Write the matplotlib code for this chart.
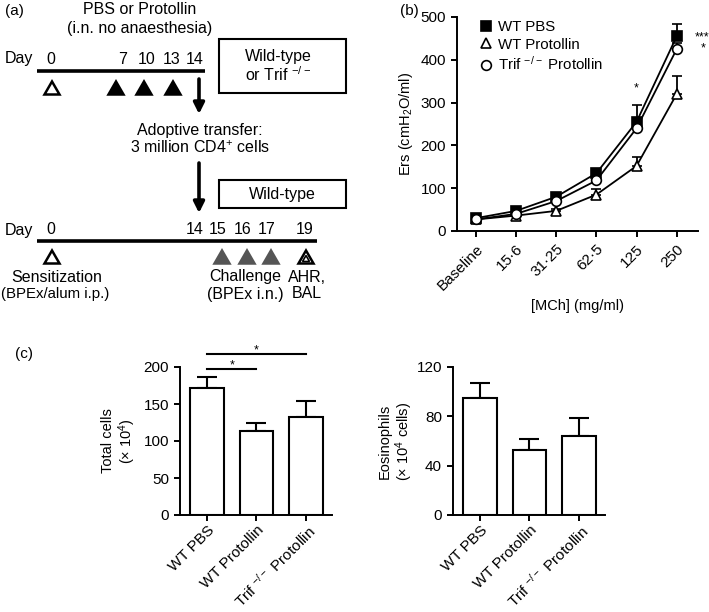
import matplotlib
matplotlib.use("Agg")
import matplotlib.pyplot as plt
from matplotlib.patches import Polygon, Rectangle
from matplotlib.lines import Line2D

plt.rcParams['font.family'] = ['Liberation Sans', 'DejaVu Sans']
plt.rcParams['mathtext.fontset'] = 'custom'
plt.rcParams['mathtext.rm'] = 'Liberation Sans'
plt.rcParams['mathtext.default'] = 'regular'

W, H = 709, 612

# ---------- data: panel (b) ----------
mch_labels = ["Baseline", "15\u00b76", "31\u00b725", "62\u00b75", "125", "250"]
wt_pbs = [30, 47, 80, 135, 255, 455]
wt_pbs_err = [3, 3, 5, 6, 40, 28]
wt_prot = [27, 36, 47, 85, 152, 320]
wt_prot_err = [2, 3, 5, 14, 22, 41]
trif_prot = [27, 40, 70, 118, 240, 425]
trif_prot_err = [2, 3, 6, 8, 15, 15]

# ---------- data: panel (c) ----------
groups = ["WT PBS", "WT Protollin", "Trif $^{-/-}$ Protollin"]
total_cells = [171, 114, 133]
total_cells_err = [15, 11, 21]
eosinophils = [95, 53, 64]
eosinophils_err = [12, 9, 15]

TICK_FS = 11
LAB_FS = 10.5


def px_axes(fig, left, top, right, bottom):
    return fig.add_axes([left / W, 1 - bottom / H, (right - left) / W, (bottom - top) / H])


def prism_style(ax):
    for s in ["top", "right"]:
        ax.spines[s].set_visible(False)
    for s in ["left", "bottom"]:
        ax.spines[s].set_linewidth(1.4)
    ax.tick_params(width=1.4, length=4.5, labelsize=TICK_FS, direction="out")


fig = plt.figure(figsize=(W / 100, H / 100), dpi=100)

# ---------- Panel (a): schematic in pixel coordinates ----------
ax0 = fig.add_axes([0, 0, 1, 1])
ax0.set_xlim(0, W)
ax0.set_ylim(H, 0)
ax0.axis("off")

fs = 11.5


def tri(x, y, face, edge="k", w=15, h=13, lw=1.8):
    ax0.add_patch(Polygon([(x - w / 2, y + h / 2), (x + w / 2, y + h / 2), (x, y - h / 2)],
                          closed=True, facecolor=face, edgecolor=edge, lw=lw, joinstyle="miter"))


ax0.text(5, 11, "(a)", fontsize=11, va="center")
ax0.text(140, 9, "PBS or Protollin", fontsize=fs, ha="center", va="center")
ax0.text(140, 29, "(i.n. no anaesthesia)", fontsize=fs, ha="center", va="center")

# first timeline
ax0.text(5, 59, "Day", fontsize=fs, va="center")
for d, x in zip(["0", "7", "10", "13", "14"], [51, 123, 147, 172, 195]):
    ax0.text(x, 59, d, fontsize=fs, ha="center", va="center")
ax0.plot([37, 205], [71, 71], color="k", lw=2.6, solid_capstyle="butt")
tri(52, 88, "white")
for x in [116, 144, 173]:
    tri(x, 88, "black")
ax0.add_patch(Rectangle((219, 39), 127, 54, fill=False, lw=1.5, edgecolor="k"))
ax0.text(245, 57, "Wild-type", fontsize=fs, va="center")
ax0.text(245, 75, "or Trif $^{-/-}$", fontsize=fs, va="center")

arrow = dict(arrowstyle="-|>", lw=2.6, color="k", mutation_scale=16, shrinkA=0, shrinkB=0)
ax0.annotate("", xy=(199, 114), xytext=(199, 79), arrowprops=arrow)
ax0.text(200, 130, "Adoptive transfer:", fontsize=fs, ha="center", va="center")
ax0.text(200, 148, "3 million CD4$^{+}$ cells", fontsize=fs, ha="center", va="center")
ax0.annotate("", xy=(199, 213), xytext=(199, 163), arrowprops=arrow)

ax0.add_patch(Rectangle((219, 180), 127, 28, fill=False, lw=1.5, edgecolor="k"))
ax0.text(282, 194, "Wild-type", fontsize=fs, ha="center", va="center")

# second timeline
ax0.text(5, 230, "Day", fontsize=fs, va="center")
for d, x in zip(["0", "14", "15", "16", "17", "19"], [51, 195, 218, 243, 267, 305]):
    ax0.text(x, 230, d, fontsize=fs, ha="center", va="center")
ax0.plot([37, 317], [241, 241], color="k", lw=2.6, solid_capstyle="butt")
tri(52, 257, "white")
for x in [222, 247, 271]:
    tri(x, 257, "#555555", edge="#555555")
tri(306, 257, "white")
tri(306, 258.5, "white", w=7, h=6, lw=1.2)
ax0.text(57, 277, "Sensitization", fontsize=fs, ha="center", va="center")
ax0.text(55, 294, "(BPEx/alum i.p.)", fontsize=10.8, ha="center", va="center")
ax0.text(245, 277, "Challenge", fontsize=fs, ha="center", va="center")
ax0.text(245, 294, "(BPEx i.n.)", fontsize=fs, ha="center", va="center")
ax0.text(307, 277, "AHR,", fontsize=fs, ha="center", va="center")
ax0.text(307, 294, "BAL", fontsize=fs, ha="center", va="center")

ax0.text(400, 11, "(b)", fontsize=11, va="center")
ax0.text(15, 354, "(c)", fontsize=11, va="center")

# ---------- Panel (b): methacholine dose response ----------
axb = px_axes(fig, 457, 17, 698, 231)
prism_style(axb)
xs = list(range(len(mch_labels)))
series = [
    (wt_pbs, wt_pbs_err, "s", "black", "WT PBS"),
    (wt_prot, wt_prot_err, "^", "white", "WT Protollin"),
    (trif_prot, trif_prot_err, "o", "white", "Trif $^{-/-}$ Protollin"),
]
handles = []
for vals, err, mk, fc, lab in series:
    axb.errorbar(xs, vals, yerr=[[0] * len(err), err], color="k", lw=1.3, capsize=3.5,
                 capthick=1.3, elinewidth=1.3, marker=mk, markersize=7, markerfacecolor=fc,
                 markeredgecolor="k", markeredgewidth=1.2, clip_on=False)
    handles.append(Line2D([], [], linestyle="none", marker=mk, markersize=7,
                          markerfacecolor=fc, markeredgecolor="k", markeredgewidth=1.2, label=lab))
axb.set_xlim(-0.47, 5.53)
axb.set_ylim(0, 500)
axb.set_yticks([0, 100, 200, 300, 400, 500])
axb.set_xticks(xs)
axb.set_xticklabels(mch_labels, rotation=45, ha="right", rotation_mode="anchor")
axb.set_ylabel("Ers (cmH$_2$O/ml)", fontsize=LAB_FS)
axb.set_xlabel("[MCh] (mg/ml)", fontsize=LAB_FS)
axb.legend(handles=handles, loc="upper left", bbox_to_anchor=(0.04, 1.05), frameon=False,
           fontsize=10.8, handlelength=0.8, handletextpad=0.4, labelspacing=0.25)
axb.text(4, 325, "*", ha="center", fontsize=9)
axb.text(5.45, 445, "***", ha="left", fontsize=9, clip_on=False)
axb.text(5.6, 420, "*", ha="left", fontsize=9, clip_on=False)


def bar_panel(ax, vals, err, ymax, yticks, ylabel, labelpad=4):
    prism_style(ax)
    bx = list(range(len(groups)))
    ax.bar(bx, vals, width=0.68, facecolor="white", edgecolor="k", lw=1.5, zorder=2)
    ax.errorbar(bx, vals, yerr=[[0] * len(err), err], fmt="none", ecolor="k",
                elinewidth=1.5, capsize=7.5, capthick=1.5, zorder=1)
    ax.set_xlim(-0.55, 2.53)
    ax.set_ylim(0, ymax)
    ax.set_yticks(yticks)
    ax.set_xticks(bx)
    ax.set_xticklabels(groups, rotation=45, ha="right", va="top", rotation_mode="anchor")
    ax.tick_params(axis="x", pad=1)
    ax.set_ylabel(ylabel, fontsize=LAB_FS, linespacing=1.1, labelpad=labelpad)


# ---------- Panel (c): BAL cells ----------
axc1 = px_axes(fig, 180, 367, 332, 515)
bar_panel(axc1, total_cells, total_cells_err, 200, [0, 50, 100, 150, 200],
          "Total cells\n(\u00d7 10$^4$)")
axc1.plot([0, 2], [218, 218], color="k", lw=1.5, clip_on=False)
axc1.text(1, 219, "*", ha="center", fontsize=9)
axc1.plot([0, 1], [197, 197], color="k", lw=1.5, clip_on=False)
axc1.text(0.5, 198, "*", ha="center", fontsize=9)

axc2 = px_axes(fig, 453, 367, 605, 515)
bar_panel(axc2, eosinophils, eosinophils_err, 120, [0, 40, 80, 120],
          "Eosinophils\n(\u00d7 10$^4$ cells)", labelpad=1)

fig.savefig("out.png", dpi=100)
